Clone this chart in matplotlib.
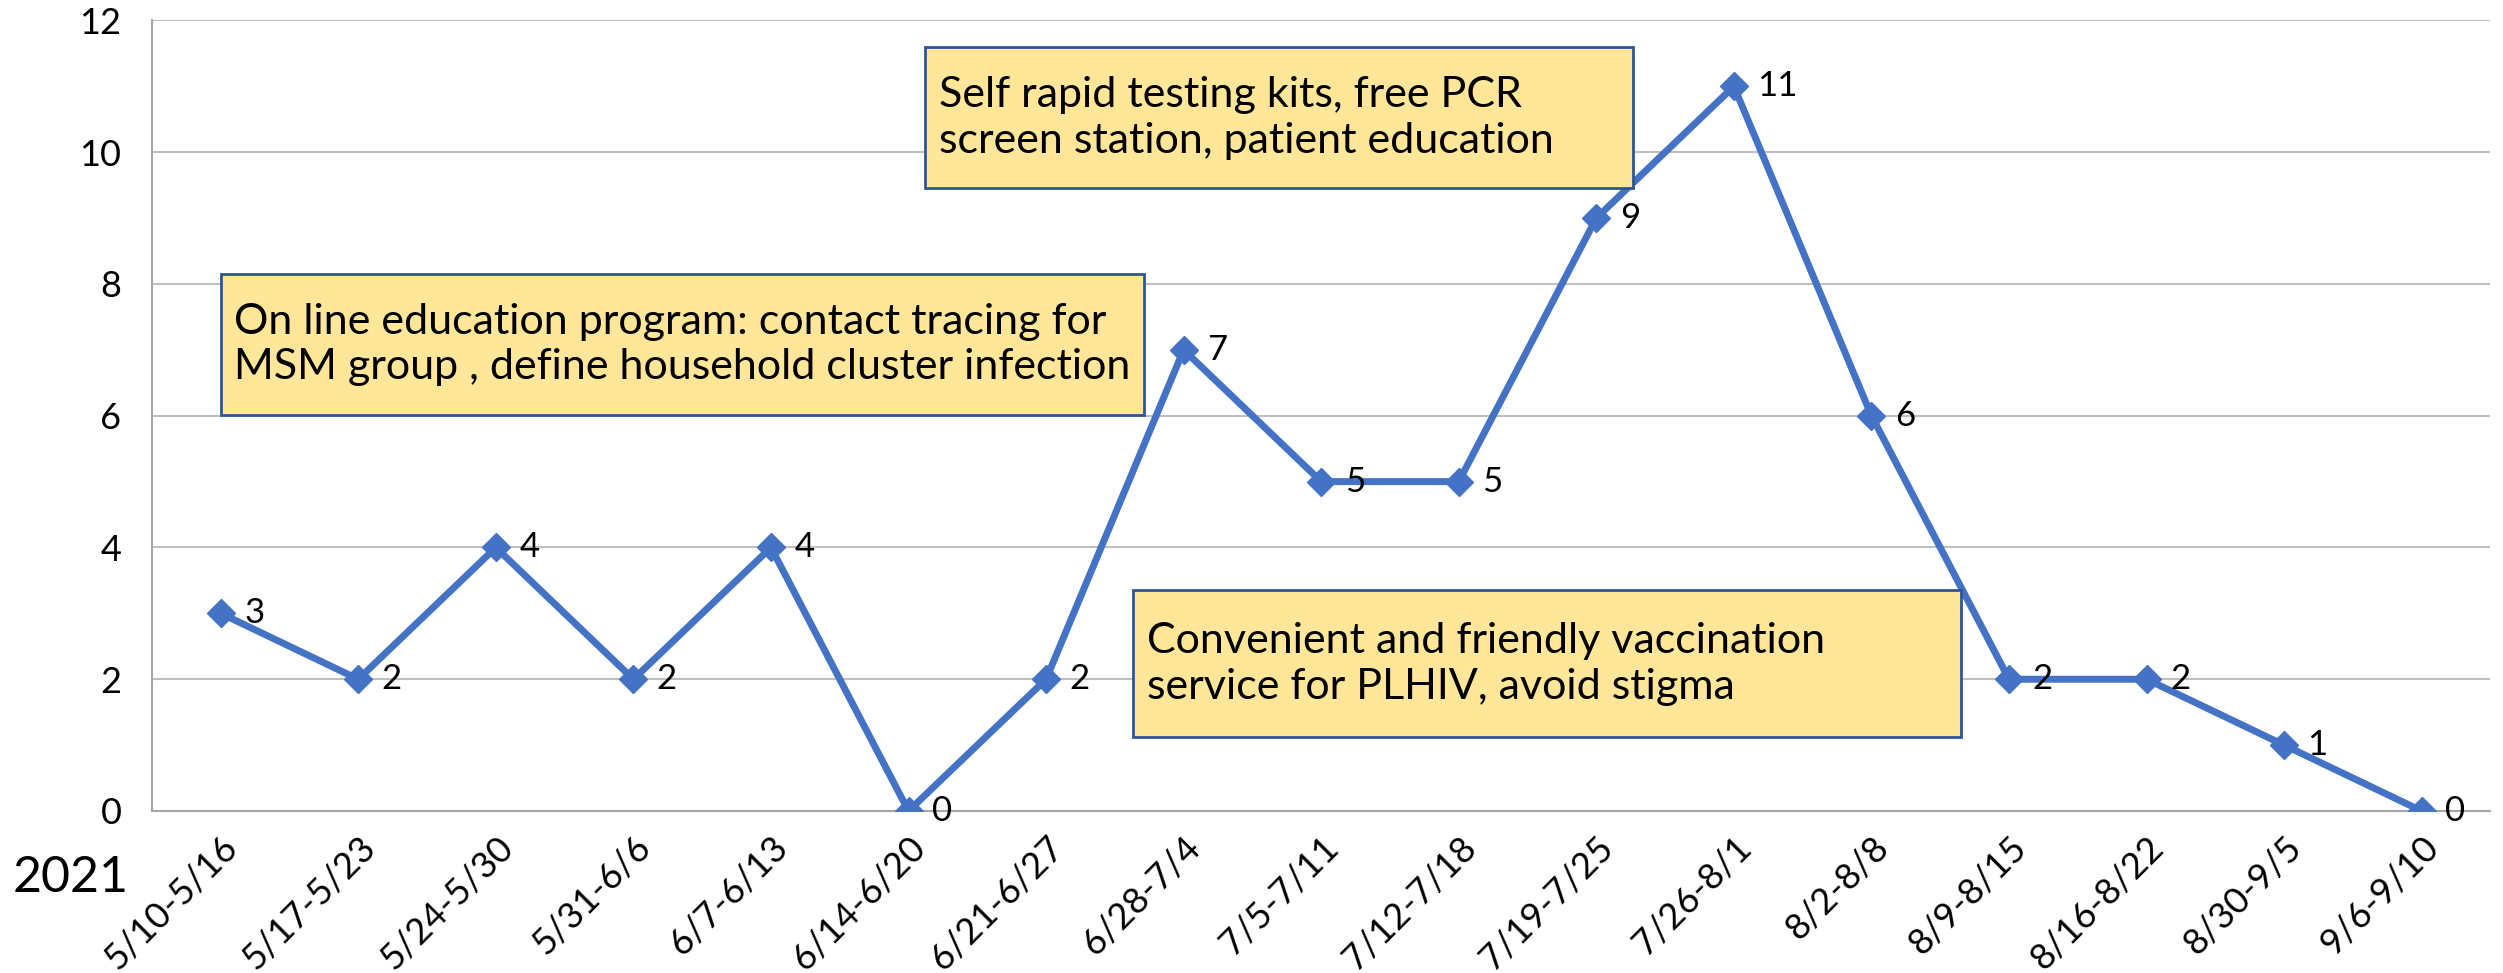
import matplotlib
matplotlib.use("Agg")
import matplotlib.pyplot as plt
from matplotlib.patches import Rectangle

plt.rcParams['font.family'] = ['Lato', 'DejaVu Sans']

weeks = ['5/10-5/16', '5/17-5/23', '5/24-5/30', '5/31-6/6', '6/7-6/13',
         '6/14-6/20', '6/21-6/27', '6/28-7/4', '7/5-7/11', '7/12-7/18',
         '7/19-7/25', '7/26-8/1', '8/2-8/8', '8/9-8/15', '8/16-8/22',
         '8/30-9/5', '9/6-9/10']
cases = [3, 2, 4, 2, 4, 0, 2, 7, 5, 5, 9, 11, 6, 2, 2, 1, 0]

notes = [
    "On line education program: contact tracing for\nMSM group , define household cluster infection",
    "Self rapid testing kits, free PCR\nscreen station, patient education",
    "Convenient and friendly vaccination\nservice for PLHIV, avoid stigma",
]
# box corners in data units: (x0, y0, x1, y1)
note_boxes = [(0.0, 6.01, 6.71, 8.15), (5.12, 9.45, 10.27, 11.59), (6.63, 1.12, 12.65, 3.35)]

fig = plt.figure(figsize=(25.03, 9.73), dpi=100)
ax = fig.add_axes([0.0607, 0.1665, 0.9343, 0.8125])

x = list(range(len(weeks)))
ax.plot(x, cases, color='#4472C4', lw=5, marker='D', ms=14, zorder=3)
for xi, v in zip(x, cases):
    ax.text(xi + 0.17, v, str(v), fontsize=25, va='center', ha='left', zorder=4)

ax.set_xlim(-0.5, len(weeks) - 0.5)
ax.set_ylim(0, 12)
ax.set_yticks(range(0, 13, 2))
ax.set_xticks(x)
ax.set_xticklabels(weeks, rotation=45, ha='right', rotation_mode='anchor', fontsize=26)
ax.tick_params(axis='both', length=0)
ax.tick_params(axis='y', pad=22, labelsize=26)
ax.tick_params(axis='x', pad=14)
ax.grid(axis='y', color='#BFBFBF', lw=1.5)
ax.set_axisbelow(True)
for s in ['top', 'right']:
    ax.spines[s].set_visible(False)
for s in ['left', 'bottom']:
    ax.spines[s].set_color('#A6A6A6')
    ax.spines[s].set_linewidth(1.5)

for txt, (x0, y0, x1, y1) in zip(notes, note_boxes):
    ax.add_patch(Rectangle((x0, y0), x1 - x0, y1 - y0, facecolor='#FFE699',
                           edgecolor='#2F5597', lw=2, zorder=5))
    ax.text(x0 + 0.1, (y0 + y1) / 2, txt, fontsize=31, va='center', ha='left',
            linespacing=1.25, zorder=6)

fig.text(0.005, 1 - 878 / 973, '2021', fontsize=36, va='center', ha='left')

fig.savefig('out.png', dpi=100)
